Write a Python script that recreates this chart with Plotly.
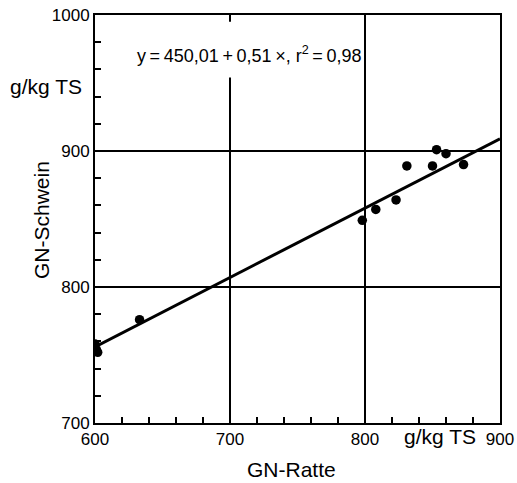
import plotly.graph_objects as go

# Data
gn_ratte = [600, 601, 602, 633, 798, 808, 823, 831, 850, 853, 860, 873]
gn_schwein = [758, 754, 752, 776, 849, 857, 864, 889, 889, 901, 898, 890]

# Regression coefficients (from the printed equation)
intercept = 450.01
slope = 0.51
fit_x = [600, 900]
fit_y = [intercept + slope * x for x in fit_x]

FONT = "Liberation Sans"
W, H = 517, 483
# plot box in screen pixels: x 95..500, y 15..423
L, T, R, B = 95, 15, W - 500, H - 423

fig = go.Figure()
fig.add_trace(go.Scatter(x=fit_x, y=fit_y, mode="lines",
                         line=dict(color="black", width=3), hoverinfo="skip"))
fig.add_trace(go.Scatter(x=gn_ratte, y=gn_schwein, mode="markers",
                         marker=dict(color="black", size=9.5)))

axis_common = dict(
    showline=True, linecolor="black", linewidth=2, mirror=True,
    showgrid=True, gridcolor="black", gridwidth=1.5,
    ticks="inside", ticklen=6, tickwidth=1.5, tickcolor="black",
    minor=dict(ticks="inside", ticklen=6, tickwidth=1.5, tickcolor="black",
               dtick=20, showgrid=False),
    tickfont=dict(family=FONT, size=17, color="black"),
    zeroline=False, dtick=100, automargin=False,
)

fig.update_layout(
    width=W, height=H,
    margin=dict(l=L, r=R, t=T, b=B),
    paper_bgcolor="white", plot_bgcolor="white",
    showlegend=False,
    xaxis=dict(range=[600, 900], **axis_common),
    yaxis=dict(range=[700, 1000], **axis_common),
    font=dict(family=FONT, color="black"),
)

# white gap in the 700 gridline behind the equation
fig.add_shape(type="rect", xref="x", yref="y", x0=690, x1=710, y0=954, y1=995,
              fillcolor="white", line=dict(width=0), layer="between")

TH = "\u2009"
annots = [
    dict(text=f"y{TH}={TH}450,01{TH}+{TH}0,51{TH}×, r<sup>2</sup>{TH}={TH}0,98",
         x=249, y=55, font=dict(size=18)),
    dict(text="g/kg TS", x=46, y=86, font=dict(size=21)),
    dict(text="GN-Schwein", x=41, y=220, textangle=-90, font=dict(size=21)),
    dict(text="g/kg TS", x=440, y=436, font=dict(size=21)),
    dict(text="GN-Ratte", x=291, y=469, font=dict(size=21)),
]
for a in annots:
    px, py = a.pop("x"), a.pop("y")
    fig.add_annotation(
        x=(px - L) / (W - L - R), y=1 - (py - T) / (H - T - B),
        xref="paper", yref="paper", showarrow=False,
        xanchor="center", yanchor="middle", **a)

fig.write_html("out.html", config={"displayModeBar": False},
               post_script="document.body.style.margin='0px';")
